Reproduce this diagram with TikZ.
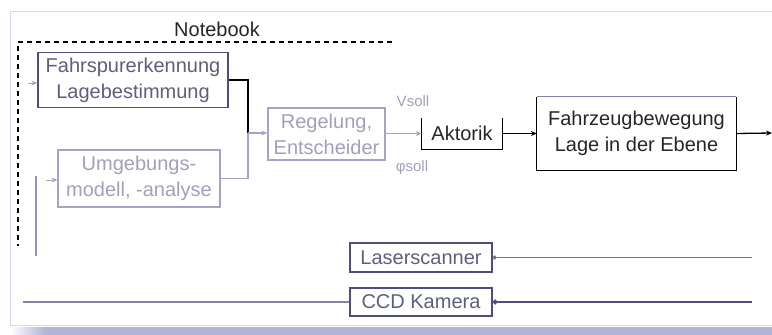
\documentclass[tikz,border=0pt]{standalone}
\usepackage{fontspec}
\setmainfont{Liberation Sans}
\usetikzlibrary{arrows.meta}
\definecolor{dk}{HTML}{4E4E7E}
\definecolor{dktxt}{HTML}{5E5E80}
\definecolor{lt}{HTML}{A4A4C8}
\definecolor{lttxt}{HTML}{A0A0BE}
\definecolor{frame}{HTML}{D8D8EC}
\definecolor{shadow}{HTML}{B4B4D8}
\tikzset{
  txt/.style={font=\fontsize{20}{26}\selectfont},
  box/.style={draw, line width=1.3pt, align=center, inner sep=0pt, txt},
  dkbox/.style={box, draw=dk, text=dktxt},
  ltbox/.style={box, draw=lt, text=lttxt},
  tip/.style={-{Stealth[length=6pt,width=5pt]}},
  lbl/.style={text=lttxt, font=\fontsize{15}{18}\selectfont},
}
\begin{document}
\begin{tikzpicture}[x=1pt,y=-1pt]
\useasboundingbox (0,0) rectangle (772,335);
% frame and shadow
\shade[left color=white, right color=shadow, shading=axis] (10,327) rectangle (45,335);
\fill[shadow] (45,327) rectangle (772,335);
\draw[frame, line width=1pt] (772,11) -- (10,11) -- (10,325) -- (772,325);
% Notebook
\node[txt, text=black!85] (nb) at (217,29) {Notebook};
\draw[dashed, line width=1.5pt, dash pattern=on 5pt off 4pt] (392,42) -- (18,42) -- (18,246);
% boxes
\node[dkbox, minimum width=190pt, minimum height=55pt] (fs) at (133,80) {Fahrspurerkennung\\Lagebestimmung};
\node[ltbox, minimum width=162pt, minimum height=57pt] (ug) at (139,178.5) {Umgebungs-\\modell, -analyse};
\node[ltbox, minimum width=117pt, minimum height=52pt] (rg) at (326.5,134) {Regelung,\\Entscheider};
\node[inner sep=0pt, minimum width=80pt, minimum height=31pt, txt, text=black!85] (ak) at (462,133.5) {Aktorik};
\draw[line width=1.3pt] (ak.north west) -- (ak.south west) -- (ak.south east) -- (ak.north east);
\node[inner sep=0pt, minimum width=199pt, minimum height=73pt, align=center, txt, text=black!85] (fz) at (636.5,133.5) {Fahrzeugbewegung\\Lage in der Ebene};
\draw[line width=1.3pt] (fz.north east) -- (fz.south east) -- (fz.south west) -- (fz.north west);
\draw[dk!70, line width=1.3pt] (fz.north west) -- (fz.north east);
\node[dkbox, minimum width=142pt, minimum height=29pt] (ls) at (421,257.5) {Laserscanner};
\node[dkbox, minimum width=142pt, minimum height=28pt] (ccd) at (421,302) {CCD Kamera};
% labels
\node[lbl] (vs) at (413,101) {Vsoll};
\node[lbl] (ds) at (412,168) {φsoll};
% coordinates
\coordinate (j) at (248,133);
\coordinate (e1) at (752,257.5);
\coordinate (e2) at (752,302);
\coordinate (l1) at (23,302);
\coordinate (out) at (772,133);
\coordinate (a1) at (28,83);
\coordinate (a2) at (46,180);
\coordinate (v1) at (36,176);
\coordinate (v2) at (36,256);
% small arrow marks on left of boxes
\draw[lt, line width=1pt, tip] (a1) -- (fs.west |- a1);
\draw[lt, line width=1pt, tip] (a2) -- (ug.west |- a2);
\draw[lt!80!dk, line width=1.3pt] (v1) -- (v2);
% connectors
\draw[black, line width=1.3pt] (fs.east) -| (j);
\draw[lt, line width=1.3pt] (ug.east) -| (j);
\draw[lt, line width=1.3pt, tip] (j) -- (rg.west |- j);
\draw[lt, line width=1.3pt, tip] (rg.east |- ak.west) -- (ak.west);
\draw[black, line width=1.3pt, tip] (ak.east) -- (fz.west);
\draw[black, line width=1.3pt, tip] (fz.east) -- (out);
\draw[dk!80, line width=1.3pt, -{Circle[length=4pt]}] (e1) -- (ls.east);
\draw[dk, line width=1.6pt, -{Circle[length=5pt]}] (e2) -- (ccd.east);
\draw[dk!70, line width=1.3pt] (l1) -- (ccd.west);
\end{tikzpicture}
\end{document}
